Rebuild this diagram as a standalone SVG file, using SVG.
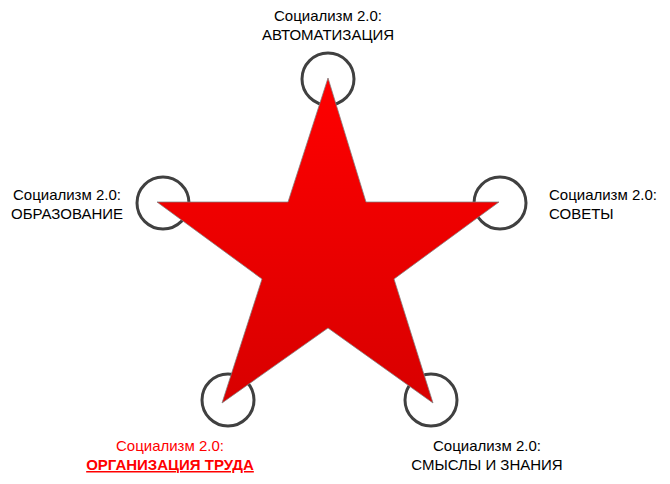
<svg xmlns="http://www.w3.org/2000/svg" width="670" height="484" viewBox="0 0 670 484">
  <style>
    .ring { fill: #ffffff; stroke: #404040; stroke-width: 3; }
    .lbl { font-family: "Liberation Sans", Arial, sans-serif; font-size: 15px; fill: #000000; }
    .red { fill: #ff0000; }
    .bold { font-weight: bold; text-decoration: underline; }
  </style>
  <defs>
    <linearGradient id="starGrad" x1="0" y1="0" x2="0" y2="1">
      <stop offset="0" stop-color="#ff0000"/>
      <stop offset="1" stop-color="#d80000"/>
    </linearGradient>
  </defs>
  <rect width="670" height="484" fill="#ffffff"/>
  <g id="connectors"></g>
  <g id="rings">
    <circle class="ring" cx="328" cy="79" r="26"/>
    <circle class="ring" cx="163" cy="203" r="26"/>
    <circle class="ring" cx="500" cy="203" r="26"/>
    <circle class="ring" cx="228" cy="400" r="26"/>
    <circle class="ring" cx="431" cy="400" r="26"/>
  </g>
  <g id="star">
    <polygon points="328,78 366,202 499,202 394,279 433,403 328,328 222,403 262,279 157,202 288,202" fill="url(#starGrad)" stroke="#7f7f7f" stroke-width="0.75"/>
  </g>
  <g id="node-top">
    <text class="lbl" x="328" y="21" text-anchor="middle">Социализм 2.0:</text>
    <text class="lbl" x="328" y="40" text-anchor="middle">АВТОМАТИЗАЦИЯ</text>
  </g>
  <g id="node-left">
    <text class="lbl" x="67" y="200" text-anchor="middle">Социализм 2.0:</text>
    <text class="lbl" x="67" y="219" text-anchor="middle">ОБРАЗОВАНИЕ</text>
  </g>
  <g id="node-right">
    <text class="lbl" x="549" y="200">Социализм 2.0:</text>
    <text class="lbl" x="549" y="219">СОВЕТЫ</text>
  </g>
  <g id="node-bottom-left">
    <text class="lbl red" x="170" y="451" text-anchor="middle">Социализм 2.0:</text>
    <text class="lbl red bold" x="170" y="470" text-anchor="middle">ОРГАНИЗАЦИЯ ТРУДА</text>
  </g>
  <g id="node-bottom-right">
    <text class="lbl" x="487" y="451" text-anchor="middle">Социализм 2.0:</text>
    <text class="lbl" x="487" y="470" text-anchor="middle">СМЫСЛЫ И ЗНАНИЯ</text>
  </g>
</svg>
